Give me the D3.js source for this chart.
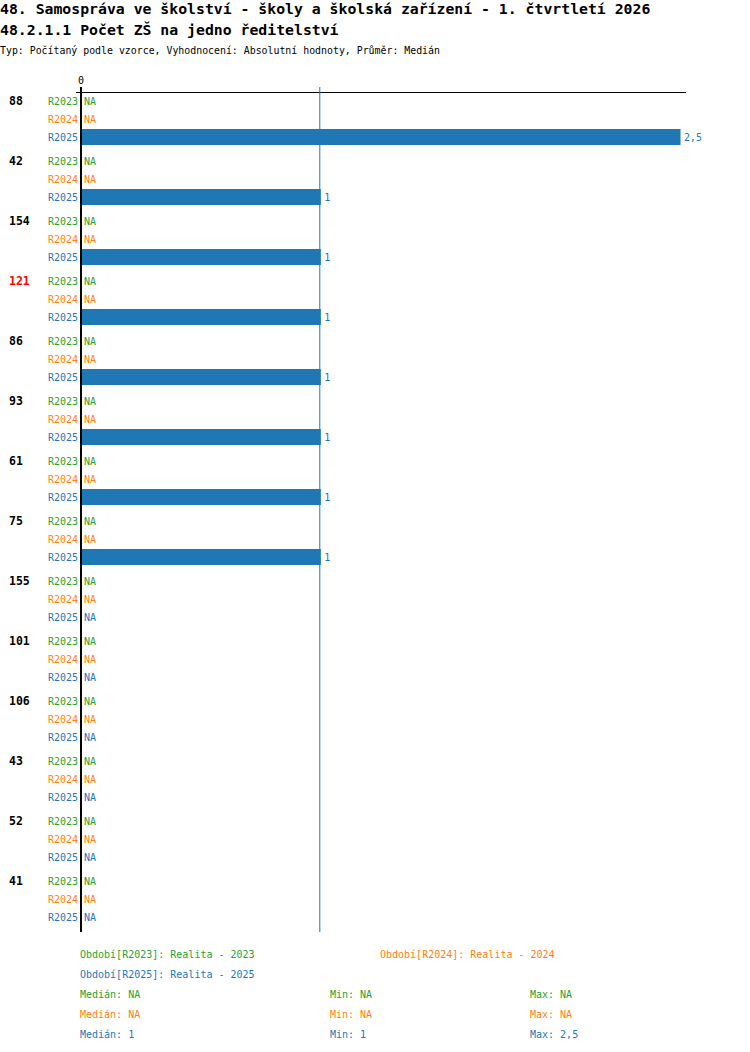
<!DOCTYPE html>
<html><head><meta charset="utf-8">
<script src="https://cdn.jsdelivr.net/npm/d3@7"></script>
<style>body{margin:0;background:#fff}svg text{font-family:"DejaVu Sans Mono",monospace}</style>
</head><body><svg id="c" width="750" height="1052"></svg>
<script>
const title1 = "48. Samospráva ve školství - školy a školská zařízení - 1. čtvrtletí 2026";
const title2 = "48.2.1.1 Počet ZŠ na jedno ředitelství";
const subtitle = "Typ: Počítaný podle vzorce, Vyhodnocení: Absolutní hodnoty, Průměr: Medián";
const groups = ["88","42","154","121","86","93","61","75","155","101","106","43","52","41"];
const highlighted = ["121"];
const seriesNames = ["R2023","R2024","R2025"];
const seriesColors = ["#2ca02c","#ff7f0e","#1f77b4"];
const r2023 = [null,null,null,null,null,null,null,null,null,null,null,null,null,null];
const r2024 = [null,null,null,null,null,null,null,null,null,null,null,null,null,null];
const r2025 = [2.5,1,1,1,1,1,1,1,null,null,null,null,null,null];
const legendLabels = ["Období[R2023]: Realita - 2023","Období[R2024]: Realita - 2024","Období[R2025]: Realita - 2025"];
const medians = ["NA","NA","1"];
const mins = ["NA","NA","1"];
const maxs = ["NA","NA","2,5"];
const medianValue = 1;
const xTicks = [0];

const series = [r2023, r2024, r2025];
const svg = d3.select("#c");
const fmt = v => String(v).replace(".", ",");

svg.append("text").attr("x",0).attr("y",14).attr("font-size",14.8).attr("font-weight","bold").text(title1);
svg.append("text").attr("x",0).attr("y",35).attr("font-size",14.8).attr("font-weight","bold").text(title2);
svg.append("text").attr("x",0).attr("y",54).attr("font-size",9.9).text(subtitle);

const x = d3.scaleLinear().domain([0,2.5]).range([81,680.5]);
const y0 = d3.scaleBand().domain(groups.map((g,i)=>i)).range([92,932]);
const yr = d3.scaleBand().domain(seriesNames).range([0,54]);

// top axis line
svg.append("line").attr("x1",76).attr("x2",686).attr("y1",92.5).attr("y2",92.5).attr("stroke","#000").attr("stroke-width",1);
svg.selectAll(".xt").data(xTicks).enter().append("text").attr("x",d=>x(d)-3).attr("y",84).attr("font-size",10).text(d=>d);

const g = svg.selectAll(".grp").data(groups).enter().append("g").attr("transform",(d,i)=>`translate(0,${y0(i)})`);
g.append("text").attr("x",9).attr("y",yr("R2023")+yr.bandwidth()/2).attr("dy","0.35em")
  .attr("font-size",11.5).attr("font-weight","bold").attr("fill",d=>highlighted.includes(d)?"#ff0000":"#000").text(d=>d);

seriesNames.forEach((s,si)=>{
  g.append("text").attr("x",78).attr("text-anchor","end").attr("y",yr(s)+yr.bandwidth()/2).attr("dy","0.35em")
    .attr("font-size",10).attr("fill",seriesColors[si]).text(s);
  g.filter((d,i)=>series[si][i]!=null).append("rect")
    .attr("x",x(0)).attr("y",yr(s)+1).attr("height",16)
    .attr("width",(d,i)=>x(series[si][i])-x(0)).attr("fill",seriesColors[si]);
  g.append("text").attr("y",yr(s)+yr.bandwidth()/2).attr("dy","0.35em").attr("font-size",10).attr("fill",seriesColors[si])
    .attr("x",(d,i)=>series[si][i]!=null ? x(series[si][i])+3.5 : 84)
    .text((d,i)=>series[si][i]!=null ? fmt(series[si][i]) : "NA");
});

// median line
svg.append("line").attr("x1",x(medianValue)-1).attr("x2",x(medianValue)-1).attr("y1",87).attr("y2",932).attr("stroke","#1f77b4").attr("stroke-width",1);
// left axis
svg.append("line").attr("x1",81).attr("x2",81).attr("y1",87).attr("y2",932).attr("stroke","#000").attr("stroke-width",2);

// legend
const legPos = [[80,954],[380,954],[80,974]];
legendLabels.forEach((t,i)=>{
  svg.append("text").attr("x",legPos[i][0]).attr("y",legPos[i][1]).attr("dy","0.35em").attr("font-size",10).attr("fill",seriesColors[i]).text(t);
});
seriesNames.forEach((s,i)=>{
  const yy = 994 + i*20;
  svg.append("text").attr("x",80).attr("y",yy).attr("dy","0.35em").attr("font-size",10).attr("fill",seriesColors[i]).text("Medián: "+medians[i]);
  svg.append("text").attr("x",330).attr("y",yy).attr("dy","0.35em").attr("font-size",10).attr("fill",seriesColors[i]).text("Min: "+mins[i]);
  svg.append("text").attr("x",530).attr("y",yy).attr("dy","0.35em").attr("font-size",10).attr("fill",seriesColors[i]).text("Max: "+maxs[i]);
});
</script></body></html>
